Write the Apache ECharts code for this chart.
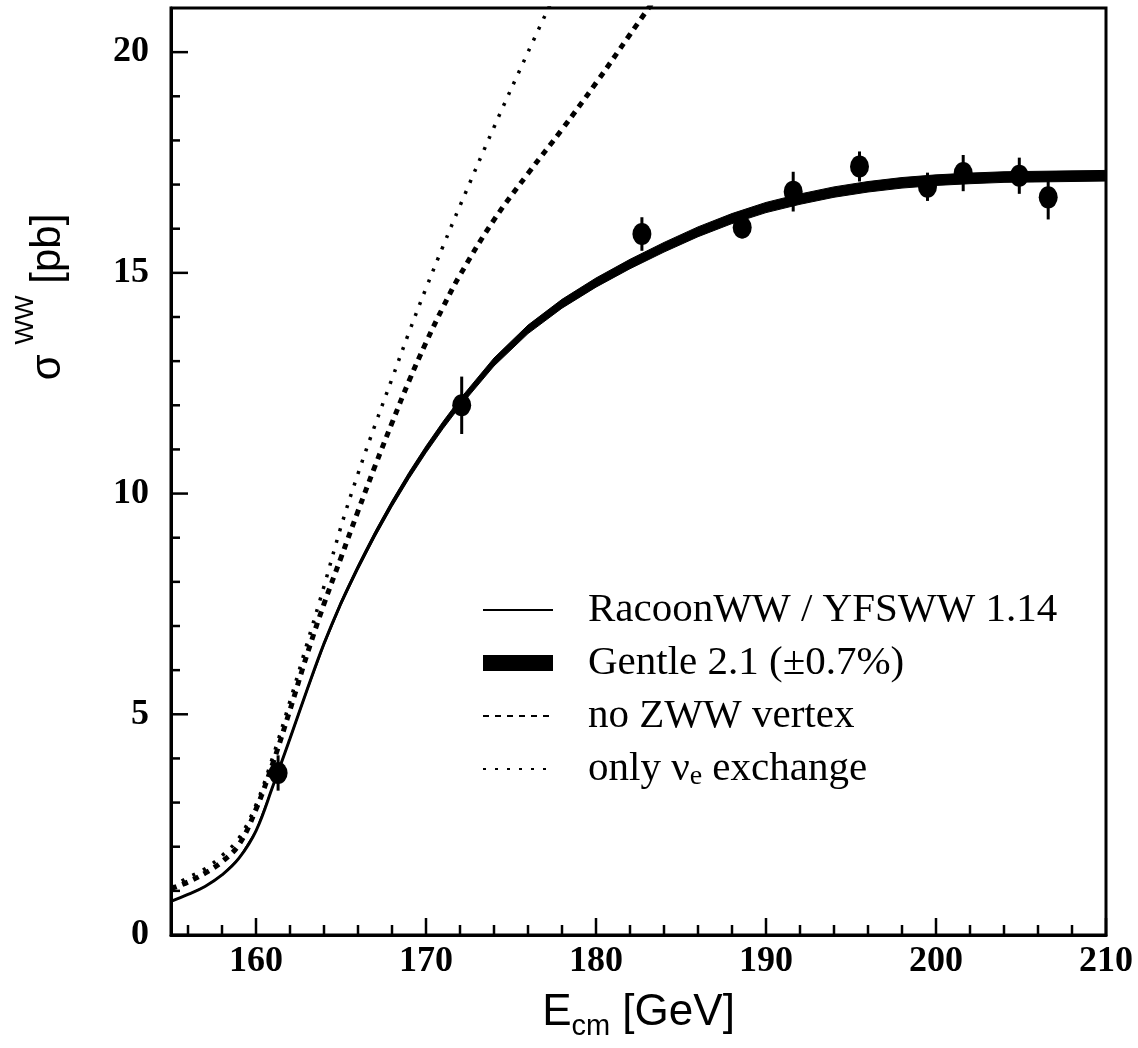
<!DOCTYPE html>
<html><head><meta charset="utf-8">
<script src="https://cdn.jsdelivr.net/npm/echarts@6/dist/echarts.min.js"></script>
<style>html,body{margin:0;padding:0;background:#fff}#c{width:1138px;height:1048px}</style>
</head><body><div id="c"></div>
<script>
// ---- data ----
const xRange = [155, 210];
const yRange = [0, 21];
const energyGrid = [155,156,157,158,159,160,161,162,163,164,165,166,167,168,169,170,171,172,174,176,178,180,182,184,186,188,190,192,194,196,198,200,202,204,206,208,210];
const sigmaRacoon = [0.76,0.92,1.10,1.36,1.74,2.36,3.38,4.45,5.55,6.6,7.52,8.33,9.08,9.77,10.41,11.0,11.55,12.06,12.98,13.72,14.30,14.78,15.20,15.58,15.93,16.23,16.48,16.67,16.83,16.95,17.04,17.1,17.14,17.17,17.18,17.19,17.2];
const gentleRelUnc = 0.007;
const energyNoZWW = [155,156,157,158,159,160,161,162,163,164,165,166,167,168,169,170,171,172,174,176,178,180,182,184];
const sigmaNoZWW = [1.05,1.2,1.4,1.66,2.05,2.85,3.9,5.1,6.35,7.5,8.55,9.6,10.62,11.6,12.55,13.42,14.22,14.95,16.2,17.25,18.25,19.3,20.4,21.5];
const energyNue = [155,156,157,158,159,160,161,162,163,164,165,166,167,168,169,170,171,172,174,176,178];
const sigmaNue = [1.1,1.3,1.5,1.8,2.2,2.95,4.05,5.3,6.6,7.9,9.25,10.45,11.55,12.6,13.65,14.65,15.6,16.52,18.3,20.0,21.65];
const dataEnergy = [161.3,172.1,182.7,188.6,191.6,195.5,199.5,201.6,204.9,206.6];
const dataSigma = [3.67,12.0,15.88,16.03,16.84,17.41,16.95,17.26,17.2,16.71];
const dataErr = [0.4,0.65,0.38,0.25,0.45,0.34,0.32,0.41,0.41,0.5];
const xMajorTicks = [160,170,180,190,200,210];
const xMinorTicks = [156,158,162,164,166,168,172,174,176,178,182,184,186,188,192,194,196,198,202,204,206,208];
const yMajorTicks = [0,5,10,15,20];
const yMinorTicks = [1,2,3,4,6,7,8,9,11,12,13,14,16,17,18,19];
const legendNames = ['RacoonWW / YFSWW 1.14','Gentle 2.1 (±0.7%)','no ZWW vertex','only νe exchange'];

const pairs = (xs, ys) => xs.map((x, i) => [x, ys[i]]);
const points = dataEnergy.map((x, i) => [x, dataSigma[i], dataErr[i]]);
const xTickData = [...xMajorTicks.map(v => [v, yRange[0], 1]), ...xMinorTicks.map(v => [v, yRange[0], 0])];
const yTickData = [...yMajorTicks.map(v => [xRange[0], v, 1]), ...yMinorTicks.map(v => [xRange[0], v, 0])];

const chart = echarts.init(document.getElementById('c'), null, {renderer: 'canvas'});
const tickFont = {fontFamily: 'Liberation Serif', fontWeight: 'bold', color: '#000'};
const hiddenSym = {color: 'rgba(0,0,0,0)', borderWidth: 0};
const TICK_COLOR = '#000';
chart.setOption({
  animation: false,
  backgroundColor: '#fff',
  grid: {left: 171, right: 32, top: 8, bottom: 113, show: true, borderColor: '#000', borderWidth: 3, backgroundColor: 'transparent'},
  xAxis: {
    type: 'value', min: xRange[0], max: xRange[1],
    axisLine: {show: true, lineStyle: {color: '#000', width: 3}},
    splitLine: {show: false},
    axisTick: {show: false},
    axisLabel: {customValues: xMajorTicks, margin: 9, fontSize: 36, ...tickFont},
    name: '{e|E}{sub|cm}{n| [GeV]}', nameLocation: 'middle', nameGap: 50, nameMoveOverlap: false,
    nameTextStyle: {rich: {
      e: {fontFamily: 'Liberation Sans', fontSize: 44, lineHeight: 56, color: '#000'},
      sub: {fontFamily: 'Liberation Sans', fontSize: 29, lineHeight: 20, verticalAlign: 'bottom', color: '#000'},
      n: {fontFamily: 'Liberation Sans', fontSize: 44, lineHeight: 56, color: '#000'}
    }}
  },
  yAxis: {
    type: 'value', min: yRange[0], max: yRange[1],
    axisLine: {show: true, lineStyle: {color: '#000', width: 3}},
    splitLine: {show: false},
    axisTick: {show: false},
    axisLabel: {customValues: yMajorTicks, margin: 22, fontSize: 36, ...tickFont}
  },
  legend: {
    orient: 'vertical', left: 477, top: 583, itemWidth: 70, itemHeight: 16, itemGap: 9,
    selectedMode: false,
    textStyle: {fontFamily: 'Liberation Serif', fontSize: 41, lineHeight: 44, color: '#000', padding: [0, 0, 0, 30],
      rich: {sub: {fontFamily: 'Liberation Serif', fontSize: 28, lineHeight: 2, verticalAlign: 'bottom', color: '#000'}}},
    data: [
      {name: legendNames[0], itemStyle: hiddenSym},
      {name: legendNames[1], icon: 'rect', itemStyle: {color: '#000'}},
      {name: legendNames[2], itemStyle: hiddenSym},
      {name: legendNames[3], itemStyle: hiddenSym}
    ],
    formatter: n => n === legendNames[3] ? 'only ν{sub|e} exchange' : n
  },
  graphic: [{
    type: 'text', x: 48, y: 297, rotation: Math.PI / 2,
    style: {
      text: '{s|σ}{sup|WW}{n| [pb]}', align: 'center', verticalAlign: 'middle',
      rich: {
        s: {fontFamily: 'Liberation Sans', fontSize: 42, lineHeight: 71, fill: '#000'},
        sup: {fontFamily: 'Liberation Sans', fontSize: 26, lineHeight: 26, verticalAlign: 'top', padding: [0, 0, 0, 10], fill: '#000'},
        n: {fontFamily: 'Liberation Sans', fontSize: 42, lineHeight: 71, fill: '#000'}
      }
    }
  }],
  series: [
    {name: legendNames[1], type: 'custom', silent: true, itemStyle: {color: '#000'},
      data: pairs(energyGrid, sigmaRacoon), z: 2,
      renderItem: (params, api) => {
        if (params.dataIndex !== 0) return null;
        const up = energyGrid.map((x, i) => api.coord([x, sigmaRacoon[i] * (1 + gentleRelUnc)]));
        const lo = energyGrid.map((x, i) => api.coord([x, sigmaRacoon[i] * (1 - gentleRelUnc)])).reverse();
        return {type: 'polygon', shape: {points: up.concat(lo)}, style: {fill: '#000', stroke: '#000', lineWidth: 1}};
      }},
    {name: legendNames[0], type: 'line', data: pairs(energyGrid, sigmaRacoon), symbol: 'none', smooth: 0.4,
      itemStyle: {color: '#000'}, lineStyle: {color: '#000', width: 3}, z: 3},
    {name: legendNames[2], type: 'line', data: pairs(energyNoZWW, sigmaNoZWW), symbol: 'none', smooth: 0.4,
      itemStyle: {color: '#000'}, lineStyle: {color: '#000', width: 5, type: [6, 6]}, z: 3},
    {name: legendNames[3], type: 'line', data: pairs(energyNue, sigmaNue), symbol: 'none', smooth: 0.4,
      itemStyle: {color: '#000'}, lineStyle: {color: '#000', width: 3.5, type: [3, 9]}, z: 3},
    {name: 'errors', type: 'custom', data: points, silent: true, z: 5,
      renderItem: (params, api) => {
        const x = api.value(0), y = api.value(1), e = api.value(2);
        const a = api.coord([x, y + e]), b = api.coord([x, y - e]);
        return {type: 'line', shape: {x1: a[0], y1: a[1], x2: b[0], y2: b[1]}, style: {stroke: '#000', lineWidth: 3}};
      }},
    {name: 'data', type: 'scatter', data: points.map(p => [p[0], p[1]]), symbol: 'circle', symbolSize: [19, 22],
      itemStyle: {color: '#000', opacity: 1}, z: 6},
    {name: 'xticks', type: 'custom', data: xTickData, silent: true, z: 7, clip: false,
      renderItem: (params, api) => {
        const p = api.coord([api.value(0), api.value(1)]);
        const len = api.value(2) ? 17 : 10;
        return {type: 'line', shape: {x1: p[0], y1: p[1], x2: p[0], y2: p[1] - len}, style: {stroke: TICK_COLOR, lineWidth: 2.5}};
      }},
    {name: 'yticks', type: 'custom', data: yTickData, silent: true, z: 7, clip: false,
      renderItem: (params, api) => {
        const p = api.coord([api.value(0), api.value(1)]);
        const len = api.value(2) ? 17 : 9;
        return {type: 'line', shape: {x1: p[0], y1: p[1], x2: p[0] + len, y2: p[1]}, style: {stroke: TICK_COLOR, lineWidth: 2.5}};
      }}
  ]
});
</script></body></html>
